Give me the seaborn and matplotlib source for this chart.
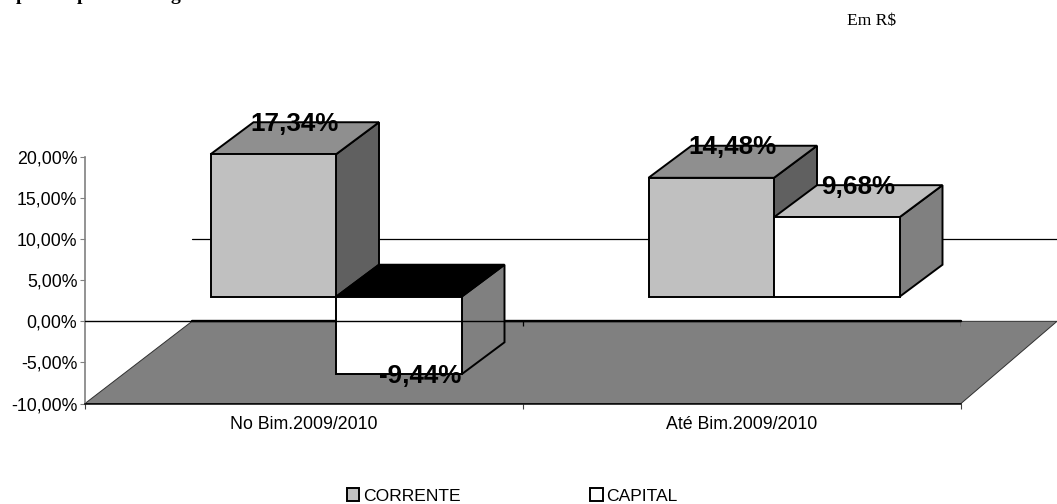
import matplotlib
matplotlib.use("Agg")
import matplotlib.pyplot as plt
from matplotlib.patches import Polygon
from matplotlib.transforms import Affine2D
import pandas as pd
import seaborn as sns

# valores
periodos = ["No Bim.2009/2010", "Até Bim.2009/2010"]
corrente = [17.34, 14.48]
capital = [-9.44, 9.68]
rotulos_corrente = ["17,34%", "14,48%"]
rotulos_capital = ["-9,44%", "9,68%"]
ticks_y = [-10, -5, 0, 5, 10, 15, 20]
labels_y = ["-10,00%", "-5,00%", "0,00%", "5,00%", "10,00%", "15,00%", "20,00%"]

W, H = 1057, 504
ESQ, DIR, TOPO, BASE = 85, 961, 157, 403.5
px_x = 438.0       # pixels por categoria
px_y = 8.2         # pixels por ponto percentual
cinza = "#808080"

sns.set_theme(style="white")
plt.rcParams["font.family"] = ["Liberation Sans", "DejaVu Sans"]

df = pd.DataFrame({
    "periodo": periodos * 2,
    "valor": corrente + capital,
    "categoria": ["CORRENTE"] * 2 + ["CAPITAL"] * 2,
})

fig = plt.figure(figsize=(W / 100, H / 100), dpi=100)
ax = fig.add_axes([ESQ / W, 1 - BASE / H, (DIR - ESQ) / W, (BASE - TOPO) / H])

sns.barplot(data=df, x="periodo", y="valor", hue="categoria",
            palette={"CORRENTE": "#c0c0c0", "CAPITAL": "#ffffff"},
            width=251 / px_x, gap=0, edgecolor="black", linewidth=1.4, ax=ax)
ax.set_xlim(-0.5, 1.5)
ax.set_ylim(-10, 20)
ax.set_xlabel("")
ax.set_ylabel("")

# chao e linha da parede do fundo
prof_esq = 107 / px_x
prof_dir = 96 / px_x
prof_y = 82 / px_y
chao = Polygon([(-0.5, -10), (1.5, -10), (1.5 + prof_dir, -10 + prof_y), (-0.5 + prof_esq, -10 + prof_y)],
               closed=True, facecolor=cinza, edgecolor="#303030", linewidth=0.7, clip_on=False, zorder=1)
ax.add_patch(chao)
ax.plot([-0.5 + prof_esq, 1.5 + prof_dir], [10, 10], color="black", lw=0.9, clip_on=False, zorder=1)
ax.plot([-0.5 + prof_esq, 1.5], [0, 0], color="black", lw=1.7, clip_on=False, zorder=2)

# plano das barras fica deslocado para dentro do chao
desl_x = 32 / px_x
desl_y = 24.5 / px_y
barra_d = Affine2D().translate(desl_x, desl_y) + ax.transData
dx = 43 / px_x
dz = 32 / px_y

cores_lado = [("#606060", "#8f8f8f"), (cinza, "#c0c0c0")]
rotulos = [rotulos_corrente, rotulos_capital]
z = 3
for i, cont in enumerate(ax.containers):
    lado, cima = cores_lado[i]
    for j, bar in enumerate(cont):
        x0, x1 = bar.get_x(), bar.get_x() + bar.get_width()
        y0, y1 = sorted([bar.get_y(), bar.get_y() + bar.get_height()])
        val = bar.get_y() + bar.get_height()
        cor_topo = "black" if val < 0 else cima
        ax.add_patch(Polygon([(x1, y0), (x1, y1), (x1 + dx, y1 + dz), (x1 + dx, y0 + dz)], closed=True,
                             facecolor=lado, edgecolor="black", linewidth=1.4, transform=barra_d,
                             clip_on=False, zorder=z))
        ax.add_patch(Polygon([(x0, y1), (x1, y1), (x1 + dx, y1 + dz), (x0 + dx, y1 + dz)], closed=True,
                             facecolor=cor_topo, edgecolor="black", linewidth=1.4, transform=barra_d,
                             clip_on=False, zorder=z))
        bar.set_transform(barra_d)
        bar.set_clip_on(False)
        bar.set_zorder(z + 0.5)
        y_txt = val if val < 0 else val + dz
        ax.text((x0 + x1) / 2 + dx / 2, y_txt - 1.5 / px_y, rotulos[i][j], transform=barra_d, ha="center",
                va="center", fontsize=18.7, fontweight="bold", color="black", zorder=10)
    z += 1

# eixo do zero por cima das barras
ax.plot([-0.5, 1.5], [0, 0], color="black", lw=1.0, clip_on=False, zorder=8)
ax.vlines([0.5, 1.5], -0.6, 0, color="black", lw=0.9, zorder=8)

# eixos
sns.despine(ax=ax, top=True, right=True)
ax.spines["left"].set_color(cinza)
ax.spines["left"].set_linewidth(1.2)
ax.spines["bottom"].set_color("black")
ax.spines["bottom"].set_linewidth(1.1)
ax.spines["bottom"].set_zorder(8)
ax.set_yticks(ticks_y)
ax.set_yticklabels(labels_y)
ax.tick_params(axis="y", left=True, length=3.5, width=0.8, color=cinza, labelsize=12.8, pad=2, labelcolor="black")
ax.set_xticks([0, 1])
ax.set_xticklabels(periodos)
ax.set_xticks([-0.5, 0.5, 1.5], minor=True)
ax.tick_params(axis="x", which="major", length=0, labelsize=12.8, pad=9, labelcolor="black")
ax.tick_params(axis="x", which="minor", bottom=True, length=3.5, width=0.8, color="#404040")

sns.move_legend(ax, loc="center left", bbox_to_anchor=(338 / W, 1 - 496 / H), bbox_transform=fig.transFigure,
                ncol=2, frameon=False, title=None, fontsize=12.6, handlelength=0.72, handleheight=0.72,
                handletextpad=0.2, columnspacing=7.4, borderpad=0, labelcolor="black")

# textos soltos da pagina
fig.text(847 / W, 1 - 25 / H, "Em R$", family="Liberation Serif", fontsize=12.6, ha="left", va="baseline", color="black")
for x_p, letra in zip([21, 82, 175], ["p", "p", "g"]):
    fig.text(x_p / W, 1 - 0 / H, letra, family="Liberation Serif", fontweight="bold", fontsize=14,
             ha="center", va="baseline", color="black")

fig.savefig("out.png", dpi=100, facecolor="white")
